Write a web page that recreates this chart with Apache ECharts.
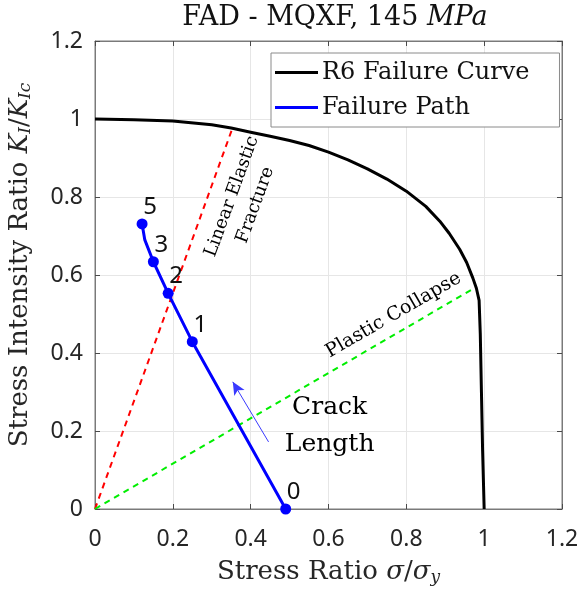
<!DOCTYPE html>
<html><head><meta charset="utf-8">
<script src="https://cdn.jsdelivr.net/npm/echarts@6/dist/echarts.min.js"></script>
<style>html,body{margin:0;padding:0;background:#fff}#c{width:583px;height:591px}</style>
</head><body><div id="c"></div>
<script>
// ---- data ----
const xTicks = [0, 0.2, 0.4, 0.6, 0.8, 1, 1.2];
const yTicks = [0, 0.2, 0.4, 0.6, 0.8, 1, 1.2];
const r6X = [0, 0.1, 0.2, 0.3, 0.35, 0.4, 0.45, 0.5, 0.55, 0.6, 0.65, 0.7, 0.75, 0.8, 0.85, 0.886, 0.91, 0.937, 0.955, 0.971, 0.98, 0.987, 0.99, 0.993, 0.996, 1.0];
const r6Y = [1.0, 0.998, 0.995, 0.985, 0.977, 0.966, 0.956, 0.945, 0.932, 0.915, 0.895, 0.872, 0.846, 0.815, 0.776, 0.738, 0.707, 0.666, 0.632, 0.592, 0.566, 0.535, 0.45, 0.3, 0.15, 0];
const pathX = [0.490, 0.250, 0.188, 0.150, 0.128, 0.121];
const pathY = [0.000, 0.429, 0.553, 0.634, 0.690, 0.731];
const pathLabels = ['0', '1', '2', '3', '', '5'];
const lefX = [0, 0.353];
const lefY = [0, 0.976];
const plasticX = [0, 0.974];
const plasticY = [0, 0.566];
const arrowFrom = [0.446, 0.172];
const arrowTo = [0.354, 0.326];
const notes = [
  { text: 'Linear Elastic\nFracture', x: 0.382, y: 0.79, rotate: 70, size: 18, lh: 25 },
  { text: 'Plastic Collapse', x: 0.767, y: 0.497, rotate: 30, size: 19, lh: 22 },
  { text: 'Crack\nLength', x: 0.603, y: 0.213, rotate: 0, size: 25, lh: 37 }
];

const SERIF = '"DejaVu Serif", "Liberation Serif", serif';
const SANS = '"Noto Sans", "Open Sans", sans-serif';
const pair = (xs, ys) => xs.map((v, i) => [v, ys[i]]);

const chart = echarts.init(document.getElementById('c'), null, { renderer: 'canvas' });
const axisCommon = {
  type: 'value', min: 0, max: 1.2, interval: 0.2,
  axisLine: { show: true, onZero: false, lineStyle: { color: '#7a7a7a', width: 1 } },
  axisTick: { show: true, inside: true, length: 5, lineStyle: { color: '#4a4a4a' } },
  splitLine: { show: true, lineStyle: { color: '#e6e6e6', width: 1 } }
};
const richName = {
  it: { fontFamily: SERIF, fontStyle: 'italic', fontSize: 26, color: '#262626' },
  sub: { fontFamily: SERIF, fontStyle: 'italic', fontSize: 17, color: '#262626', verticalAlign: 'bottom', padding: [11, 0, 0, 0] }
};
const option = {
  animation: false,
  backgroundColor: '#ffffff',
  title: {
    text: 'FAD - MQXF, 145 {it|MPa}',
    left: 330, top: -1, textAlign: 'center',
    textStyle: { fontFamily: SERIF, fontSize: 27, fontWeight: 'normal', color: '#111',
      rich: { it: { fontFamily: SERIF, fontStyle: 'italic', fontSize: 27, color: '#111' } } }
  },
  legend: {
    orient: 'vertical', left: 271, top: 53,
    data: ['R6 Failure Curve', 'Failure Path'],
    icon: 'rect', itemWidth: 43, itemHeight: 3, itemGap: 6,
    backgroundColor: '#ffffff', borderColor: '#8a8a8a', borderWidth: 1, borderRadius: 0,
    padding: [5, 30, 5, 4],
    textStyle: { fontFamily: SERIF, fontSize: 24, color: '#111', lineHeight: 29, padding: [0, 0, 0, -1] }
  },
  grid: { left: 95, right: 21, top: 41, bottom: 82, containLabel: false, outerBoundsMode: 'none',
    show: true, borderColor: '#7a7a7a', borderWidth: 1 },
  xAxis: [
    Object.assign({}, axisCommon, {
      position: 'bottom',
      axisLabel: { margin: 19, fontFamily: SANS, fontSize: 23, color: '#262626',
        formatter: v => { const t = xTicks.find(k => Math.abs(k - v) < 1e-6); return t === undefined ? '' : String(t); } },
      name: 'Stress Ratio {it|σ}/{it|σ}{sub|y}', nameLocation: 'middle', nameGap: 49,
      nameTextStyle: { fontFamily: SERIF, fontSize: 26, color: '#262626', rich: richName }
    }),
    Object.assign({}, axisCommon, { position: 'top', axisLabel: { show: false }, splitLine: { show: false } })
  ],
  yAxis: [
    Object.assign({}, axisCommon, {
      position: 'left',
      axisLabel: { margin: 12, fontFamily: SANS, fontSize: 23, color: '#262626',
        formatter: v => { const t = yTicks.find(k => Math.abs(k - v) < 1e-6); return t === undefined ? '' : String(t); } },
      name: 'Stress Intensity Ratio {it|K}{sub|I}/{it|K}{sub|Ic}', nameLocation: 'middle', nameGap: 61,
      nameTextStyle: { fontFamily: SERIF, fontSize: 26, color: '#262626', rich: richName, padding: [0, 0, 0, 20] }
    }),
    Object.assign({}, axisCommon, { position: 'right', axisLabel: { show: false }, splitLine: { show: false } })
  ],
  series: [
    { name: 'LEF', type: 'line', data: pair(lefX, lefY), symbol: 'none', silent: true,
      lineStyle: { color: '#ff0000', width: 2, type: [6, 5] } },
    { name: 'PC', type: 'line', data: pair(plasticX, plasticY), symbol: 'none', silent: true,
      lineStyle: { color: '#00ee00', width: 2, type: [6, 5] } },
    { name: 'R6 Failure Curve', type: 'line', data: pair(r6X, r6Y), symbol: 'none', smooth: false,
      color: '#000000', lineStyle: { color: '#000000', width: 3, join: 'round' } },
    { name: 'Failure Path', type: 'line', color: '#0000ff',
      data: pathX.map((v, i) => ({ value: [v, pathY[i]], symbol: pathLabels[i] === '' ? 'none' : 'circle',
        label: { show: pathLabels[i] !== '', formatter: pathLabels[i] } })),
      symbolSize: 11, itemStyle: { color: '#0000ff' },
      lineStyle: { color: '#0000ff', width: 3 },
      label: { position: 'inside', offset: [8, -17], fontFamily: SANS, fontSize: 24, color: '#111' },
      markLine: { silent: true, symbol: ['none', 'arrow'], symbolSize: [9, 13], animation: false,
        lineStyle: { color: '#3a3aff', width: 1, type: 'solid' }, label: { show: false },
        data: [[{ coord: arrowFrom }, { coord: arrowTo }]] }
    },
    { name: 'notes', type: 'scatter', symbolSize: 0, silent: true, itemStyle: { opacity: 1 },
      data: notes.map(n => ({ value: [n.x, n.y],
        label: { show: true, formatter: n.text, rotate: n.rotate, position: 'inside', align: 'center', verticalAlign: 'middle',
          fontFamily: SERIF, fontSize: n.size, lineHeight: n.lh, color: '#000000', opacity: 1 } })) }
  ]
};
chart.setOption(option);
</script></body></html>
